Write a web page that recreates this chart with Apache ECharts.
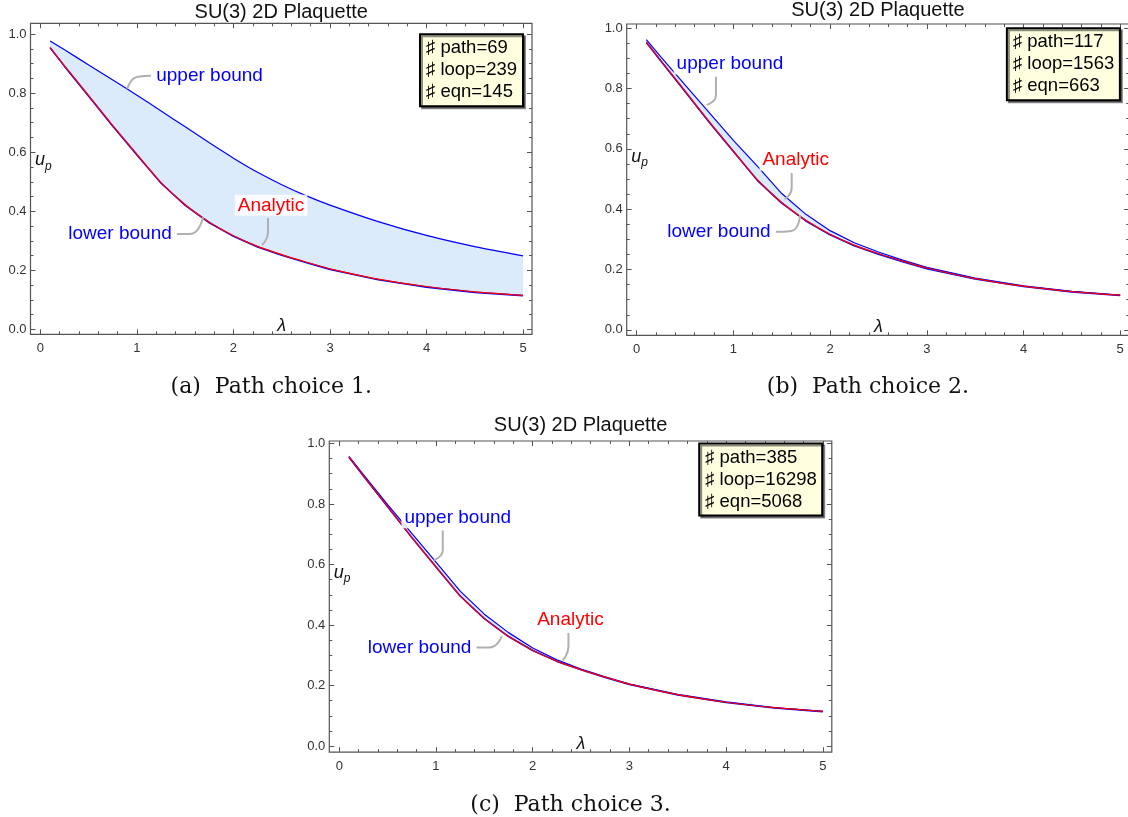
<!DOCTYPE html>
<html>
<head>
<meta charset="utf-8">
<script src="https://cdn.jsdelivr.net/npm/echarts@6/dist/echarts.min.js"></script>
<style>
  html, body { margin: 0; padding: 0; background: #fff; }
  #main { width: 1128px; height: 817px; }
</style>
</head>
<body>
<div id="main"></div>
<script>
// lambda grid shared by every curve
const lambda = [0.1, 0.25, 0.5, 0.75, 1, 1.25, 1.5, 1.75, 2, 2.25, 2.5, 2.75, 3, 3.5, 4, 4.5, 5];
const analytic = [0.955, 0.893, 0.792, 0.690, 0.593, 0.497, 0.422, 0.363, 0.317, 0.281, 0.253, 0.228, 0.205, 0.170, 0.145, 0.127, 0.115];

// path choice 1
const upperA = [0.977, 0.947, 0.896, 0.845, 0.793, 0.740, 0.686, 0.632, 0.580, 0.532, 0.490, 0.453, 0.421, 0.365, 0.318, 0.280, 0.249];
const lowerA = [0.954, 0.891, 0.790, 0.688, 0.591, 0.495, 0.420, 0.361, 0.315, 0.279, 0.251, 0.226, 0.203, 0.168, 0.143, 0.125, 0.114];
// path choice 2
const upperB = [0.962, 0.905, 0.812, 0.720, 0.628, 0.542, 0.452, 0.383, 0.329, 0.289, 0.258, 0.231, 0.207, 0.172, 0.146, 0.128, 0.115];
const lowerB = [0.953, 0.891, 0.790, 0.688, 0.591, 0.495, 0.420, 0.361, 0.315, 0.279, 0.251, 0.226, 0.203, 0.169, 0.144, 0.126, 0.114];
// path choice 3
const upperC = [0.957, 0.897, 0.798, 0.703, 0.608, 0.512, 0.436, 0.375, 0.324, 0.285, 0.255, 0.229, 0.205, 0.171, 0.146, 0.127, 0.115];
const lowerC = [0.954, 0.892, 0.791, 0.689, 0.592, 0.496, 0.421, 0.362, 0.316, 0.280, 0.252, 0.227, 0.204, 0.169, 0.144, 0.126, 0.114];

const countsA = ['♯ path=69', '♯ loop=239', '♯ eqn=145'];
const countsB = ['♯ path=117', '♯ loop=1563', '♯ eqn=663'];
const countsC = ['♯ path=385', '♯ loop=16298', '♯ eqn=5068'];
const captions = ['(a)  Path choice 1.', '(b)  Path choice 2.', '(c)  Path choice 3.'];
const plotTitle = 'SU(3) 2D Plaquette';

// tick labels
const xMajor = [0, 1, 2, 3, 4, 5];
const xMinor = [0.2, 0.4, 0.6, 0.8, 1.2, 1.4, 1.6, 1.8, 2.2, 2.4, 2.6, 2.8, 3.2, 3.4, 3.6, 3.8, 4.2, 4.4, 4.6, 4.8];
const yMajor = [0, 0.2, 0.4, 0.6, 0.8, 1.0];
const yMinor = [0.05, 0.1, 0.15, 0.25, 0.3, 0.35, 0.45, 0.5, 0.55, 0.65, 0.7, 0.75, 0.85, 0.9, 0.95];

// callout leader lines (label end -> curve), data coordinates
const noteUpperA = [[1.145, 0.859], [1.01, 0.856], [0.9, 0.815]];
const noteLowerA = [[1.415, 0.323], [1.55, 0.323], [1.684, 0.380]];
const noteAnaA = [[2.358, 0.377], [2.358, 0.330], [2.295, 0.286]];
const noteUpperB = [[0.82, 0.839], [0.82, 0.779], [0.727, 0.746]];
const noteLowerB = [[1.44, 0.325], [1.6, 0.328], [1.69, 0.381]];
const noteAnaB = [[1.603, 0.520], [1.603, 0.470], [1.531, 0.434]];
const noteUpperC = [[1.07, 0.712], [1.07, 0.647], [0.978, 0.615]];
const noteLowerC = [[1.42, 0.326], [1.55, 0.326], [1.68, 0.363]];
const noteAnaC = [[2.37, 0.374], [2.37, 0.330], [2.31, 0.284]];

const W = 1128;
const SANS = '"Liberation Sans", Arial, sans-serif';
const BLUE = '#0000ff';
const RED = '#ff0000';
const FRAME = '#555';

const panels = [
  { grid: { left: 30.5, top: 23.3, width: 501.5, height: 311 }, x: [-0.103, 5.093], y: [-0.017, 1.037],
    titleY: 12.7, captionY: 387, upper: upperA, lower: lowerA, counts: countsA,
    notes: [
      { text: 'upper bound', color: BLUE, pts: noteUpperA, pos: 'right', off: [0, 0] },
      { text: 'lower bound', color: BLUE, pts: noteLowerA, pos: 'left', off: [0, 0] },
      { text: 'Analytic', color: RED, pts: noteAnaA, pos: 'top', off: [3, 0] }
    ] },
  { grid: { left: 626.7, top: 24, width: 502.5, height: 311.3 }, x: [-0.103, 5.093], y: [-0.018, 1.014],
    titleY: 10.5, captionY: 387, upper: upperB, lower: lowerB, counts: countsB,
    notes: [
      { text: 'upper bound', color: BLUE, pts: noteUpperB, pos: 'top', off: [14, 0] },
      { text: 'lower bound', color: BLUE, pts: noteLowerB, pos: 'left', off: [0, 0] },
      { text: 'Analytic', color: RED, pts: noteAnaB, pos: 'top', off: [4, 0] }
    ] },
  { grid: { left: 329.3, top: 441, width: 502.5, height: 311.2 }, x: [-0.103, 5.093], y: [-0.02, 1.008],
    titleY: 425, captionY: 805, upper: upperC, lower: lowerC, counts: countsC,
    notes: [
      { text: 'upper bound', color: BLUE, pts: noteUpperC, pos: 'top', off: [15, 0] },
      { text: 'lower bound', color: BLUE, pts: noteLowerC, pos: 'left', off: [0, 0] },
      { text: 'Analytic', color: RED, pts: noteAnaC, pos: 'top', off: [2, 0] }
    ] }
];

const grids = [], xAxes = [], yAxes = [], series = [];

function tickAxis(base, values, len, withLabels, labelOpt) {
  return Object.assign({}, base, {
    axisLine: { show: false, onZero: false },
    splitLine: { show: false },
    axisTick: { show: true, inside: true, length: len, customValues: values, lineStyle: { color: FRAME, width: 1 } },
    axisLabel: withLabels ? labelOpt : { show: false }
  });
}

panels.forEach((p, i) => {
  grids.push(Object.assign({ show: true, borderColor: FRAME, borderWidth: 1.2, backgroundColor: 'transparent',
    containLabel: false, outerBoundsMode: 'none' }, p.grid));

  const xb = { gridIndex: i, type: 'value', min: p.x[0], max: p.x[1] };
  const yb = { gridIndex: i, type: 'value', min: p.y[0], max: p.y[1] };
  const xLab = { show: true, customValues: xMajor, margin: 8, color: '#333', fontSize: 13, fontFamily: SANS };
  const yLab = { show: true, customValues: yMajor, margin: 4, color: '#333', fontSize: 13, fontFamily: SANS,
    formatter: v => v.toFixed(1) };
  const xi = xAxes.length, yi = yAxes.length;
  xAxes.push(tickAxis(Object.assign({ position: 'bottom' }, xb), xMajor, 5, true, xLab));
  xAxes.push(tickAxis(Object.assign({ position: 'bottom' }, xb), xMinor, 3, false));
  xAxes.push(tickAxis(Object.assign({ position: 'top' }, xb), xMajor, 5, false));
  xAxes.push(tickAxis(Object.assign({ position: 'top' }, xb), xMinor, 3, false));
  yAxes.push(tickAxis(Object.assign({ position: 'left' }, yb), yMajor, 5, true, yLab));
  yAxes.push(tickAxis(Object.assign({ position: 'left' }, yb), yMinor, 3, false));
  yAxes.push(tickAxis(Object.assign({ position: 'right' }, yb), yMajor, 5, false));
  yAxes.push(tickAxis(Object.assign({ position: 'right' }, yb), yMinor, 3, false));

  const ax = { xAxisIndex: xi, yAxisIndex: yi, symbol: 'none', silent: true, animation: false };
  // shaded band between the bounds, drawn through the axes' scales
  series.push({
    type: 'custom', xAxisIndex: xi, yAxisIndex: yi, z: 1, silent: true, animation: false,
    data: [[lambda[0], p.lower[0]]],
    renderItem: (params, api) => {
      const top = lambda.map((x, k) => api.coord([x, p.upper[k]]));
      const bot = lambda.map((x, k) => api.coord([x, p.lower[k]])).reverse();
      return { type: 'polygon', shape: { points: top.concat(bot) }, style: { fill: '#dcebfc', stroke: null } };
    }
  });
  series.push(Object.assign({ type: 'line', z: 3, data: lambda.map((x, k) => [x, p.upper[k]]),
    smooth: i === 0 ? 0.3 : 0, lineStyle: { color: BLUE, width: 1.2 } }, ax));
  series.push(Object.assign({ type: 'line', z: 3, data: lambda.map((x, k) => [x, p.lower[k]]),
    lineStyle: { color: BLUE, width: 1.6 } }, ax));
  series.push(Object.assign({ type: 'line', z: 4, smooth: 0.2, data: lambda.map((x, k) => [x, analytic[k]]),
    lineStyle: { color: RED, width: 1.2 } }, ax));

  // callouts
  p.notes.forEach(n => {
    series.push({
      type: 'line', xAxisIndex: xi, yAxisIndex: yi, z: 6, silent: true, animation: false,
      smooth: 0.6, symbol: 'circle', symbolSize: 0.5, showSymbol: true,
      itemStyle: { color: '#b0b0b0' },
      lineStyle: { color: '#b0b0b0', width: 2 },
      data: n.pts.map((pt, k) => k === 0 ? {
        value: pt,
        label: { show: true, position: n.pos, distance: 2, offset: n.off, formatter: n.text, color: n.color,
          fontSize: 19, fontFamily: SANS, backgroundColor: 'rgba(255,255,255,0.85)', padding: [1, 3] }
      } : { value: pt, label: { show: false } })
    });
  });
});

const chart = echarts.init(document.getElementById('main'));
chart.setOption({
  animation: false,
  grid: grids,
  xAxis: xAxes,
  yAxis: yAxes,
  series: series
});

// texts placed through the axes' own scales
const titles = [], graphics = [];
panels.forEach((p, i) => {
  const g = p.grid;
  const cx = g.left + g.width / 2;
  const bottom = g.top + g.height;
  const xi = i * 4, yi = i * 4;
  graphics.push({ type: 'text', x: cx, y: p.titleY, z: 10,
    style: { text: plotTitle, fill: '#111', font: '20px ' + SANS, align: 'center', verticalAlign: 'middle' } });
  graphics.push({ type: 'text', x: cx - 10, y: p.captionY, z: 10,
    style: { text: captions[i], fill: '#111', font: '22px "DejaVu Serif", serif', align: 'center', verticalAlign: 'middle' } });
  const upY = chart.convertToPixel({ xAxisIndex: xi, yAxisIndex: yi }, [0, 0.573])[1];
  graphics.push({ type: 'text', x: g.left + 4.5, y: upY, z: 10,
    style: { text: 'u', fill: '#111', font: 'italic 18px ' + SANS, align: 'left', verticalAlign: 'middle' } });
  graphics.push({ type: 'text', x: g.left + 14.5, y: upY + 6, z: 10,
    style: { text: 'p', fill: '#111', font: 'italic 12px ' + SANS, align: 'left', verticalAlign: 'middle' } });
  const lx = chart.convertToPixel({ xAxisIndex: xi, yAxisIndex: yi }, [2.5, 0])[0];
  graphics.push({ type: 'text', x: lx, y: bottom - 8, z: 10,
    style: { text: 'λ', fill: '#111', font: 'italic 18px ' + SANS, align: 'center', verticalAlign: 'middle' } });
  const corner = chart.convertToPixel({ xAxisIndex: xi, yAxisIndex: yi }, [5, 1]);
  titles.push({
    text: p.counts.join('\n'), right: W - corner[0], top: corner[1],
    backgroundColor: '#ffffe0', borderColor: '#000', borderWidth: 2, padding: [3, 6],
    shadowColor: 'rgba(0,0,0,0.45)', shadowOffsetX: 2, shadowOffsetY: 2, shadowBlur: 0,
    textStyle: { fontSize: 18.5, fontWeight: 'normal', fontFamily: SANS, color: '#000', lineHeight: 22 }
  });
});
chart.setOption({ title: titles, graphic: graphics });
</script>
</body>
</html>
